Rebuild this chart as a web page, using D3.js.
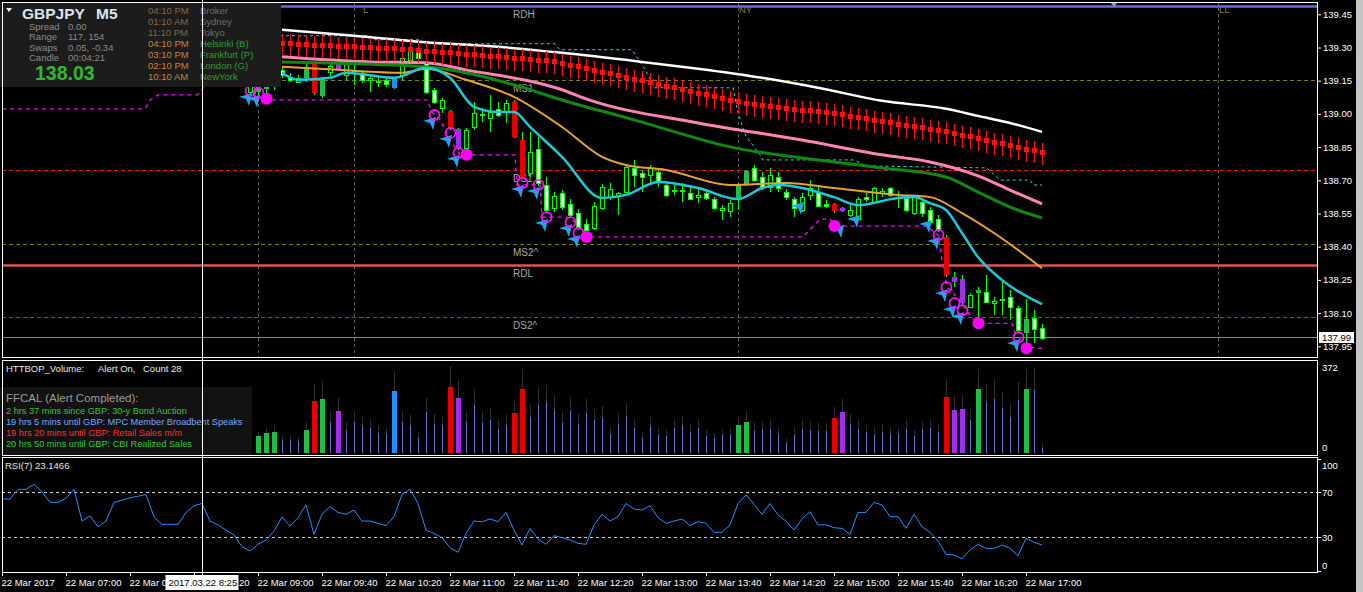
<!DOCTYPE html>
<html><head><meta charset="utf-8">
<script src="https://cdn.jsdelivr.net/npm/d3@7"></script>
<style>html,body{margin:0;padding:0;background:#000;overflow:hidden}svg{display:block}text{font-family:"Liberation Sans",Arial,sans-serif}</style>
</head><body><svg id="c" width="1363" height="592"></svg>
<script>
// ---------------- DATA ----------------
const symbol = "GBPJPY", timeframe = "M5";
const startTime = new Date(2017, 2, 22, 6, 20);
const barCount = 131;
const times = d3.range(barCount).map(i => new Date(+startTime + i * 300000));
const candleStart = 31;
const open = [139.100,139.100,139.113,139.136,139.199,139.167,139.145,139.163,139.230,139.082,139.190,139.235,139.176,139.194,139.185,139.154,139.145,139.154,139.118,139.176,139.244,139.290,139.235,139.109,139.027,139.013,138.932,138.846,138.941,138.995,138.982,139.022,139.009,139.054,138.882,138.733,138.842,138.679,138.575,138.642,138.593,138.552,138.502,138.484,138.575,138.624,138.629,138.647,138.756,138.733,138.724,138.738,138.679,138.652,138.652,138.642,138.624,138.642,138.615,138.566,138.561,138.620,138.679,138.756,138.715,138.670,138.715,138.647,138.615,138.566,138.634,138.647,138.593,138.593,138.575,138.543,138.525,138.624,138.602,138.642,138.665,138.624,138.620,138.552,138.602,138.566,138.525,138.443,138.263,138.254,138.127,138.190,138.195,138.145,138.158,138.172,138.122,138.009,138.077,138.032];
const high = [139.154,139.145,139.163,139.190,139.217,139.185,139.176,139.230,139.235,139.167,139.230,139.276,139.244,139.221,139.199,139.176,139.167,139.167,139.163,139.267,139.312,139.299,139.244,139.118,139.073,139.018,138.937,138.937,139.054,139.027,139.086,139.054,139.063,139.063,138.919,138.919,138.896,138.715,138.647,138.656,138.615,138.570,138.525,138.602,138.683,138.688,138.647,138.769,138.792,138.747,138.769,138.756,138.692,138.679,138.688,138.679,138.670,138.656,138.624,138.588,138.611,138.688,138.747,138.769,138.738,138.756,138.738,138.661,138.624,138.642,138.701,138.670,138.611,138.597,138.579,138.588,138.624,138.642,138.670,138.665,138.670,138.652,138.634,138.634,138.611,138.579,138.543,138.452,138.285,138.272,138.190,138.217,138.272,138.172,138.249,138.204,138.131,138.163,138.113,138.050];
const low = [139.082,139.082,139.086,139.109,139.163,139.145,139.140,139.145,139.086,139.073,139.163,139.194,139.154,139.131,139.140,139.100,139.122,139.122,139.113,139.154,139.235,139.244,139.091,139.045,139.004,138.928,138.837,138.837,138.928,138.964,138.919,138.986,138.959,138.891,138.710,138.715,138.674,138.552,138.557,138.566,138.534,138.475,138.466,138.475,138.566,138.611,138.543,138.642,138.670,138.647,138.688,138.670,138.624,138.634,138.602,138.611,138.597,138.611,138.566,138.520,138.534,138.566,138.674,138.692,138.656,138.647,138.647,138.611,138.534,138.557,138.611,138.579,138.575,138.552,138.557,138.534,138.520,138.602,138.597,138.624,138.624,138.575,138.557,138.543,138.534,138.507,138.466,138.263,138.217,138.136,138.122,138.068,138.145,138.090,138.090,138.068,138.014,137.964,137.964,137.977];
const close = [139.136,139.127,139.145,139.172,139.176,139.154,139.163,139.212,139.095,139.163,139.217,139.199,139.230,139.199,139.154,139.163,139.149,139.136,139.158,139.253,139.299,139.253,139.100,139.054,139.063,138.937,138.846,138.928,139.004,139.000,139.009,138.995,139.050,138.896,138.715,138.828,138.688,138.566,138.629,138.579,138.543,138.489,138.475,138.584,138.670,138.661,138.642,138.760,138.724,138.715,138.756,138.692,138.634,138.656,138.656,138.615,138.634,138.620,138.575,138.575,138.597,138.679,138.742,138.701,138.670,138.724,138.665,138.624,138.575,138.624,138.665,138.584,138.584,138.561,138.561,138.566,138.615,138.615,138.665,138.652,138.634,138.620,138.566,138.624,138.552,138.511,138.475,138.272,138.240,138.145,138.181,138.204,138.149,138.154,138.163,138.127,138.023,138.072,138.027,137.986];
// bars painted by the volume indicator
const paintGreen = [32,33,34,38,40,92,93,122,128];
const paintRed = [39,56,64,65,104,118];
const paintPurple = [42,57,105,119,120];
const paintBlue = [49];
const volume = [44,69,81,85,53,53,48,93,210,218,125,170,93,125,109,101,81,77,250,125,113,61,166,117,113,267,222,125,194,121,133,97,113,162,259,145,194,206,174,121,170,117,162,133,141,77,117,149,101,61,109,73,69,101,113,85,101,69,61,73,73,113,125,89,97,97,77,40,73,97,93,89,89,141,166,117,97,85,73,85,77,77,97,69,97,101,85,226,174,178,133,259,206,218,182,145,214,259,255,20];
const volumeTop = [61,84,100,113,70,70,66,120,278,291,170,221,126,170,147,137,109,102,331,170,154,84,223,156,151,351,295,167,259,167,183,133,154,210,339,194,264,275,234,167,227,156,218,178,190,106,160,201,137,84,145,100,97,133,149,116,137,93,80,97,100,145,164,120,129,132,105,57,102,133,129,120,120,187,218,156,133,113,102,117,106,106,133,93,129,137,116,299,232,234,178,339,278,295,245,197,286,339,345,39];
const rsi = [64,64,72.6,72.6,77,70.5,61,61,64.6,72.6,44.4,49,39.4,44.4,61,63,65,66.5,68,48.3,41.5,41.5,41.5,52,58,60,44.4,41,36.4,32,21.6,17.8,23.7,27.6,35.6,48,40,47.4,58.7,32.6,50.4,57.2,52.1,50.4,54.2,44.4,44.4,42.4,40.3,48.3,68,72.6,60,36.4,33.5,29.6,20.7,16.6,33.5,44.4,43.9,46.2,43.9,52.1,36.4,23.1,37.9,28.4,23.7,31.4,29.6,27.6,24.6,23.7,41,50.4,44.4,48.3,60,55.1,54.2,58,47.4,42.4,44.4,46.2,40.3,43.9,42.4,34.4,34.4,41,60,67.6,59.3,50.4,60,49.8,44.4,36.4,46.2,52.7,41,41,38.5,37.9,32.6,52.1,52.1,61,58.7,48.3,48.3,37.9,50.4,39.4,34.4,26.7,14.8,14.2,10.7,18.7,23.7,20.1,20.1,23.1,20.1,13.6,29,25.5,23.1466];
// red band marks (one per bar from candleStart)
const bandMarks = [139.326,139.326,139.321,139.321,139.321,139.321,139.317,139.317,139.312,139.312,139.312,139.308,139.308,139.308,139.303,139.303,139.299,139.299,139.299,139.294,139.294,139.290,139.285,139.285,139.281,139.281,139.276,139.272,139.272,139.267,139.263,139.263,139.258,139.253,139.253,139.249,139.244,139.244,139.240,139.231,139.222,139.217,139.208,139.199,139.190,139.186,139.177,139.168,139.158,139.154,139.145,139.136,139.127,139.122,139.113,139.104,139.095,139.091,139.082,139.073,139.063,139.059,139.050,139.045,139.041,139.036,139.032,139.027,139.023,139.018,139.018,139.014,139.009,139.005,139.000,138.991,138.987,138.982,138.973,138.968,138.964,138.955,138.950,138.946,138.941,138.932,138.928,138.923,138.914,138.905,138.901,138.892,138.882,138.873,138.869,138.860,138.851,138.842,138.837,138.828];
// moving averages (bar index, price)
const maWhiteBars = [35,44,52,62,70,80,87,95,102,110,118,122,126,130];
const maWhite = [139.380,139.353,139.326,139.303,139.276,139.235,139.204,139.163,139.118,139.059,139.023,138.991,138.959,138.919];
const maPinkBars = [35,46,53,58,70,73,87,100,110,116,122,126,130];
const maPink = [139.258,139.235,139.231,139.199,139.109,139.068,138.959,138.882,138.815,138.783,138.720,138.656,138.593];
const maGreenBars = [35,53,58,64,70,79,91,104,110,118,122,126,130];
const maGreen = [139.235,139.213,139.186,139.131,139.063,138.973,138.851,138.783,138.756,138.715,138.647,138.579,138.530];
const maOrangeBars = [35,42,50,53,58,64,70,75,78,83,91,98,104,112,116,120,124,130];
const maOrange = [139.213,139.199,139.186,139.204,139.154,139.077,138.941,138.806,138.769,138.747,138.679,138.688,138.665,138.634,138.624,138.552,138.462,138.303];
const maCyanBars = [35,37,41,43,49,53,56,59,62,64,66,70,75,78,82,87,92,95,97,104,107,112,114,116,118,120,122,125,130];
const maCyan = [139.186,139.154,139.163,139.186,139.163,139.208,139.163,139.032,139.009,139.009,138.941,138.806,138.620,138.634,138.692,138.665,138.615,138.665,138.679,138.624,138.588,138.620,138.624,138.597,138.566,138.462,138.353,138.249,138.140];
// stepped trailing lines
const resistBars = [31,46,46.4,52.25,53,69.1,69.75,78.75,80.4,81.6,91.4,91.9,92.9,94.75,95.1,106.4,108.1,123.1,124.75,128.5,128.9,130];
const resistVals = [139.353,139.353,139.335,139.335,139.317,139.317,139.290,139.290,139.199,139.118,139.118,139.018,138.905,138.815,138.792,138.792,138.765,138.756,138.701,138.701,138.679,138.679];
const supportBars = [0,17.875,18.5,19.5,24.375,25.375,26.25,31,32,53.125,53.75,54.75,56,57.25,64.125,64.375,67.25,67.5,70.625,71.875,73.5,100.125,102.25,103.5,104.25,115.625,117,117.5,118.125,119.75,121.25,122.625,126.25,126.625,127.875,129.125,130];
const supportVals = [139.023,139.023,139.063,139.086,139.086,139.127,139.154,139.154,139.063,139.063,139.009,138.973,138.882,138.815,138.815,138.679,138.679,138.534,138.534,138.507,138.444,138.444,138.525,138.525,138.493,138.493,138.453,138.339,138.217,138.158,138.077,138.054,138.054,138.009,137.955,137.941,137.941];
const dotBars = [33,58,73,104,122,128];
const dotVals = [139.068,138.815,138.444,138.493,138.054,137.941];
const circleBars = [31,32,54,56,57,65,67,68,71,72,117,118,119,120,127];
const circleVals = [139.104,139.095,138.995,138.914,138.824,138.688,138.679,138.534,138.511,138.462,138.453,138.217,138.145,138.113,137.991];
const arrowBars = [31,32,54,56,57,65,67,68,71,72,100,105,107,116,117,118,119,120,127];
const arrowVals = [139.104,139.095,138.995,138.914,138.824,138.688,138.679,138.534,138.511,138.462,138.611,138.507,138.552,138.530,138.453,138.217,138.145,138.113,137.991];
// levels
const levelNames = ["RDH","MS1","DS1","MS2^","RDL","DS2^"];
const levelPrices = [139.486,139.154,138.747,138.412,138.317,138.081];
const bidPrice = 137.99;
const sessionLineTimes = ["09:00","10:00","14:00","19:00"];
const sessionLabels = ["L","NY","LL"];
const sessionLabelTimes = ["10:05","14:00","19:00"];
const priceTicks = [139.45,139.30,139.15,139.00,138.85,138.70,138.55,138.40,138.25,138.10,137.95];
const timeTickTimes = ["06:20","07:00","07:40","08:20","09:00","09:40","10:20","11:00","11:40","12:20","13:00","13:40","14:20","15:00","15:40","16:20","17:00"];
const timeTickLabels = ["22 Mar 2017","22 Mar 07:00","22 Mar 07:40","22 Mar 08:20","22 Mar 09:00","22 Mar 09:40","22 Mar 10:20","22 Mar 11:00","22 Mar 11:40","22 Mar 12:20","22 Mar 13:00","22 Mar 13:40","22 Mar 14:20","22 Mar 15:00","22 Mar 15:40","22 Mar 16:20","22 Mar 17:00"];
const rsiTicks = [100,70,30,0];
const rsiLevels = [70,30];
const volTicks = [372,0];
const crossTime = "08:25";
const crossLabel = "2017.03.22 8:25";
const infoRows = ["Spread","Range","Swaps","Candle"];
const infoVals = ["0.00","117, 154","0.05, -0.34","00:04:21"];
const infoPrice = "138.03";
const clockTimes = ["04:10 PM","01:10 AM","11:10 PM","04:10 PM","03:10 PM","02:10 PM","10:10 AM"];
const clockNames = ["Broker","Sydney","Tokyo","Helsinki  (B)","Frankfurt  (P)","London  (G)","NewYork"];
const newsLines = ["2 hrs 37 mins since GBP: 30-y Bond Auction","19 hrs 5 mins until GBP: MPC Member Broadbent Speaks","19 hrs 20 mins until GBP: Retail Sales m/m","20 hrs 50 mins until GBP: CBI Realized Sales"];

// ---------------- LAYOUT ----------------
const svg = d3.select("#c");
const plotL = 2, plotR = 1317;
const mainTop = 2, mainBot = 357, volTop = 360, volBot = 455, rsiTop = 457, rsiBot = 572;
const hm = s => { const [h, m] = s.split(":").map(Number); return new Date(2017, 2, 22, h, m); };
const x = d3.scaleTime().domain([startTime, new Date(+startTime + (plotR - plotL) / 8 * 300000)]).range([plotL, plotR]);
const bx = b => x(new Date(+startTime + b * 300000));
const y = d3.scaleLinear().domain([137.95, 139.45]).range([346.3, 14.3]);
const yV = d3.scaleLinear().domain([0, 372]).range([453, 361]);
const yR = d3.scaleLinear().domain([0, 100]).range([571, 458.5]);
const paintOf = k => paintGreen.includes(k) ? "#1fbe45" : paintRed.includes(k) ? "#e80000" : paintPurple.includes(k) ? "#a22cf0" : paintBlue.includes(k) ? "#1e8fff" : null;

svg.append("rect").attr("width", 1363).attr("height", 592).attr("fill", "#000");
const defs = svg.append("defs");
defs.append("clipPath").attr("id", "cm").append("rect").attr("x", plotL).attr("y", mainTop).attr("width", plotR - plotL).attr("height", mainBot - mainTop);
const gm = svg.append("g").attr("clip-path", "url(#cm)");

// session lines
gm.selectAll(".ses").data(sessionLineTimes).enter().append("line")
  .attr("x1", d => Math.round(x(hm(d))) + 0.5).attr("x2", d => Math.round(x(hm(d))) + 0.5)
  .attr("y1", mainTop).attr("y2", mainBot).attr("stroke", "#5a5a5a").attr("stroke-dasharray", "3,3");
gm.selectAll(".sesl").data(sessionLabels).enter().append("text")
  .attr("x", (d, i) => x(hm(sessionLabelTimes[i])) + 1).attr("y", 13).attr("fill", "#8c7a34").attr("font-size", "9.5px").text(d => d);

// level lines
const levelStyle = [
  {c: "#6b6bd6", w: 2.5, d: null}, {c: "#808000", w: 1, d: "4,3"}, {c: "#e81e1e", w: 1, d: "4,3"},
  {c: "#808000", w: 1, d: "4,3"}, {c: "#e05656", w: 2.5, d: null}, {c: "#e81e1e", w: 1, d: "4,3"}];
levelPrices.forEach((p, i) => {
  const yy = Math.round(y(p)) + 0.5;
  gm.append("line").attr("x1", plotL).attr("x2", plotR).attr("y1", yy).attr("y2", yy)
    .attr("stroke", levelStyle[i].c).attr("stroke-width", levelStyle[i].w).attr("stroke-dasharray", levelStyle[i].d);
  gm.append("text").attr("x", 513).attr("y", yy + 11).attr("fill", "#a8a8a8").attr("font-size", "10px").text(levelNames[i]);
});
gm.append("line").attr("x1", plotL).attr("x2", plotR).attr("y1", Math.round(y(bidPrice)) + 0.5).attr("y2", Math.round(y(bidPrice)) + 0.5).attr("stroke", "#8a8a8a");

// stepped dashed lines
const stepLine = d3.line().x(d => bx(d[0])).y(d => y(d[1]));
gm.append("path").attr("d", stepLine(resistBars.map((b, i) => [b, resistVals[i]])))
  .attr("fill", "none").attr("stroke", "#2ad4e6").attr("stroke-width", 1).attr("stroke-dasharray", "3,3");
gm.append("path").attr("d", stepLine(supportBars.map((b, i) => [b, supportVals[i]])))
  .attr("fill", "none").attr("stroke", "#ff00ff").attr("stroke-width", 1.3).attr("stroke-dasharray", "4,4");

// candles
const gc = gm.append("g").attr("shape-rendering", "crispEdges");
open.forEach((o, i) => {
  const k = candleStart + i, xc = Math.round(bx(k));
  const c = close[i], hi = high[i], lo = low[i];
  gc.append("line").attr("x1", xc + 0.5).attr("x2", xc + 0.5).attr("y1", y(hi)).attr("y2", y(lo)).attr("stroke", "#00ff00");
  const top = Math.round(y(Math.max(o, c))), bot = Math.round(y(Math.min(o, c)));
  const h = Math.max(1, bot - top);
  const pc = paintOf(k);
  if (pc) {
    gc.append("rect").attr("x", xc - 2).attr("y", top).attr("width", 5).attr("height", Math.max(2, h)).attr("fill", pc);
  } else {
    gc.append("rect").attr("x", xc - 1.5).attr("y", top + 0.5).attr("width", 4).attr("height", h)
      .attr("fill", c >= o ? "#000" : "#fff").attr("stroke", "#00ff00");
  }
});

// moving averages
const maLine = d3.line().x(d => bx(d[0])).y(d => y(d[1])).curve(d3.curveMonotoneX);
[[maWhiteBars, maWhite, "#ffffff", 2.5], [maPinkBars, maPink, "#ff84b6", 3], [maGreenBars, maGreen, "#0f8a0f", 3],
 [maOrangeBars, maOrange, "#e8a232", 2], [maCyanBars, maCyan, "#1ec8da", 2.5]].forEach(([bs, vs, col, w]) => {
  gm.append("path").attr("d", maLine(bs.map((b, i) => [b, vs[i]]))).attr("fill", "none").attr("stroke", col).attr("stroke-width", w);
});

// red band marks
const gb = gm.append("g").attr("shape-rendering", "crispEdges");
bandMarks.forEach((p, i) => {
  const xc = Math.round(bx(candleStart + i)), yc = Math.round(y(p));
  gb.append("line").attr("x1", xc + 0.5).attr("x2", xc + 0.5).attr("y1", yc - 9).attr("y2", yc + 13).attr("stroke", "#ff1010").attr("stroke-width", 1);
  gb.append("rect").attr("x", xc - 2).attr("y", yc - 2).attr("width", 5).attr("height", 5).attr("fill", "#ff1010");
});

// markers
arrowBars.forEach((b, i) => {
  const xt = bx(b) + 2, yt = y(arrowVals[i]) + 2;
  gm.append("path").attr("d", "M0,0 L-13,4 L-6,6 L-3,13 Z").attr("transform", `translate(${xt},${yt})`).attr("fill", "#1ea6f2");
});
circleBars.forEach((b, i) => {
  gm.append("circle").attr("cx", bx(b) + 0.5).attr("cy", y(circleVals[i])).attr("r", 5).attr("fill", "none").attr("stroke", "#ff10ff").attr("stroke-width", 1.8);
});
dotBars.forEach((b, i) => {
  gm.append("circle").attr("cx", bx(b) + 0.5).attr("cy", y(dotVals[i])).attr("r", 6).attr("fill", "#ff00ff");
});
// chart shift marker
svg.append("path").attr("d", `M${x(hm("17:55"))-4},2 L${x(hm("17:55"))+4},2 L${x(hm("17:55"))},7 Z`).attr("fill", "#8a9aaa");

// ---------------- VOLUME ----------------
const gv = svg.append("g").attr("shape-rendering", "crispEdges");
volume.forEach((v, i) => {
  const k = candleStart + i, xc = Math.round(bx(k));
  gv.append("line").attr("x1", xc + 0.5).attr("x2", xc + 0.5).attr("y1", yV(volumeTop[i])).attr("y2", yV(v)).attr("stroke", "#2e2e2e");
  const pc = paintOf(k);
  if (pc) gv.append("rect").attr("x", xc - 2).attr("y", yV(v)).attr("width", 5).attr("height", yV(0) - yV(v)).attr("fill", pc);
  else gv.append("line").attr("x1", xc + 0.5).attr("x2", xc + 0.5).attr("y1", yV(v)).attr("y2", yV(0)).attr("stroke", "#6a6ad2");
});
svg.append("rect").attr("x", 0).attr("y", 387).attr("width", 252).attr("height", 68).attr("fill", "#121212");
const tv = svg.append("g").attr("font-size", "9.5px").attr("fill", "#e8e8e8");
tv.append("text").attr("x", 6).attr("y", 372).text("HTTBOP_Volume:");
tv.append("text").attr("x", 98).attr("y", 372).text("Alert On,");
tv.append("text").attr("x", 143).attr("y", 372).text("Count  28");
svg.append("text").attr("x", 6).attr("y", 402).attr("fill", "#9c9c9c").attr("font-size", "11.5px").text("FFCAL  (Alert Completed):");
const newsCol = ["#34c834", "#74a8ff", "#ff2a2a", "#34c834"];
newsLines.forEach((t, i) => svg.append("text").attr("x", 6).attr("y", 413.5 + i * 11.3).attr("fill", newsCol[i]).attr("font-size", "9.2px").text(t));
volTicks.forEach((v, i) => svg.append("text").attr("x", 1322).attr("y", i === 0 ? yV(v) + 10 : yV(v) - 2).attr("fill", "#fff").attr("font-size", "9.5px").text(v));

// ---------------- RSI ----------------
rsiLevels.forEach(v => svg.append("line").attr("x1", plotL).attr("x2", plotR).attr("y1", Math.round(yR(v)) + 0.5).attr("y2", Math.round(yR(v)) + 0.5)
  .attr("stroke", "#cfcfcf").attr("stroke-dasharray", "3,3"));
svg.append("path").attr("d", d3.line().x((d, i) => bx(i)).y(d => yR(d))(rsi)).attr("fill", "none").attr("stroke", "#1e90ff").attr("stroke-width", 1);
svg.append("text").attr("x", 5).attr("y", 469).attr("fill", "#e8e8e8").attr("font-size", "9.5px").text("RSI(7) " + rsi[rsi.length - 1].toFixed(4));
rsiTicks.forEach(v => {
  const yy = yR(v);
  const ty = v === 100 ? yy + 10 : v === 0 ? yy - 2 : yy + 3.5;
  svg.append("text").attr("x", 1322).attr("y", ty).attr("fill", "#fff").attr("font-size", "9.5px").text(v);
  svg.append("line").attr("x1", plotR).attr("x2", plotR + 4).attr("y1", Math.round(yy) + 0.5).attr("y2", Math.round(yy) + 0.5).attr("stroke", "#fff");
});

// ---------------- AXES ----------------
const ay = svg.append("g").attr("transform", `translate(${plotR},0)`)
  .call(d3.axisRight(y).tickValues(priceTicks).tickFormat(d3.format(".2f")).tickSize(4).tickPadding(2));
ay.select(".domain").remove();
ay.selectAll("line").attr("stroke", "#fff");
ay.selectAll("text").attr("fill", "#fff").attr("font-size", "9.5px").attr("font-family", "Liberation Sans, Arial, sans-serif");
const ax = svg.append("g").attr("transform", `translate(0,${rsiBot})`)
  .call(d3.axisBottom(x).tickValues(timeTickTimes.map(hm)).tickFormat((d, i) => timeTickLabels[i]).tickSize(4).tickPadding(3));
ax.select(".domain").remove();
ax.selectAll("line").attr("stroke", "#fff");
ax.selectAll("text").attr("fill", "#fff").attr("font-size", "9.5px").attr("text-anchor", "start").attr("dx", "-1").attr("font-family", "Liberation Sans, Arial, sans-serif");

// crosshair time box: labels it covers keep only their visible part
const cx = Math.round(x(hm(crossTime))) + 0.5;
const boxL = cx - 37, boxR = cx + 36;
ax.selectAll(".tick").each(function (d) {
  const tx = x(d);
  const node = d3.select(this).select("text").node();
  const full = node.textContent;
  const x0 = tx - 1, w = node.getComputedTextLength();
  if (x0 + w <= boxL || x0 >= boxR) return;
  if (x0 < boxL) {
    let n = full.length;
    while (n > 0 && node.getSubStringLength(0, n) > boxL - x0 + 1.5) n--;
    node.textContent = full.slice(0, n);
  } else {
    let m = 0;
    while (m < full.length && node.getSubStringLength(0, m) < boxR - x0 - 1.5) m++;
    const off = node.getSubStringLength(0, m);
    node.textContent = full.slice(m);
    d3.select(node).attr("dx", off - 1);
  }
});

// bid label
svg.append("rect").attr("x", 1319).attr("y", Math.round(y(bidPrice)) - 5).attr("width", 35).attr("height", 11).attr("fill", "#fff");
svg.append("text").attr("x", 1322).attr("y", Math.round(y(bidPrice)) + 4).attr("fill", "#000").attr("font-size", "9.5px").text(bidPrice.toFixed(2));

// ---------------- INFO PANEL ----------------
svg.append("rect").attr("x", 0).attr("y", 3).attr("width", 281).attr("height", 84).attr("fill", "#1c1c1c");
svg.append("path").attr("d", "M6,8 L12,8 L9,12 Z").attr("fill", "#fff");
svg.append("text").attr("x", 22).attr("y", 18.5).attr("fill", "#dde4f0").attr("font-size", "15.5px").attr("font-weight", "bold").text(symbol);
svg.append("text").attr("x", 96).attr("y", 18.5).attr("fill", "#dde4f0").attr("font-size", "15.5px").attr("font-weight", "bold").text(timeframe);
infoRows.forEach((t, i) => {
  svg.append("text").attr("x", 29).attr("y", 29.5 + i * 10.5).attr("fill", "#8a8a8a").attr("font-size", "9.5px").text(t);
  svg.append("text").attr("x", 68).attr("y", 29.5 + i * 10.5).attr("fill", "#8a8a8a").attr("font-size", "9.5px").text(infoVals[i]);
});
svg.append("text").attr("x", 35).attr("y", 80).attr("fill", "#30b830").attr("font-size", "19.5px").attr("font-weight", "bold").text(infoPrice);
clockTimes.forEach((t, i) => {
  svg.append("text").attr("x", 148).attr("y", 14 + i * 11.08).attr("fill", i < 3 ? "#86683e" : "#c48440").attr("font-size", "9.5px").text(t);
  svg.append("text").attr("x", 200).attr("y", 14 + i * 11.08).attr("fill", i < 3 ? "#6e6e6e" : "#2e9e2e").attr("font-size", "9.5px").text(clockNames[i]);
});

// ---------------- FRAMES ----------------
const fr = svg.append("g").attr("stroke", "#fff").attr("shape-rendering", "crispEdges");
[[mainTop, mainBot], [volTop, volBot], [rsiTop, rsiBot]].forEach(([a, b]) => {
  fr.append("rect").attr("x", plotL + 0.5).attr("y", a + 0.5).attr("width", plotR - plotL).attr("height", b - a).attr("fill", "none");
});
// crosshair
svg.append("line").attr("x1", cx).attr("x2", cx).attr("y1", 0).attr("y2", rsiBot + 3).attr("stroke", "#fff").attr("shape-rendering", "crispEdges");
svg.append("rect").attr("x", boxL).attr("y", 575).attr("width", boxR - boxL).attr("height", 15).attr("fill", "#fff");
svg.append("text").attr("x", boxL + 3).attr("y", 586).attr("fill", "#000").attr("font-size", "9.5px").text(crossLabel);
// right scrollbar strip
svg.append("rect").attr("x", 1356).attr("y", 0).attr("width", 7).attr("height", 592).attr("fill", "#c4c4c4");
</script></body></html>
